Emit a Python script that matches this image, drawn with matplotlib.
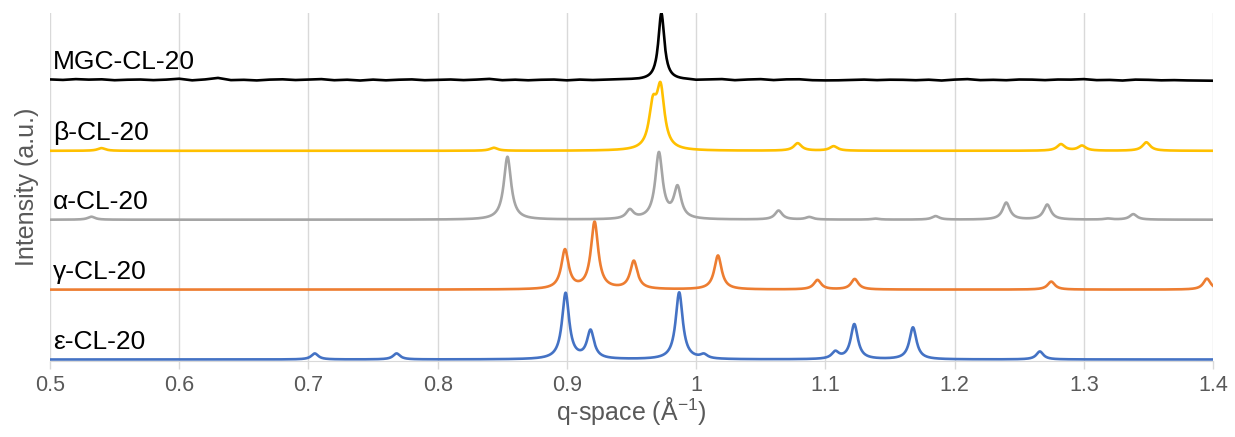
import matplotlib
matplotlib.use("Agg")
import matplotlib.pyplot as plt
import numpy as np

plt.rcParams['font.family'] = ['Liberation Sans', 'DejaVu Sans']
plt.rcParams['mathtext.default'] = 'regular'

# peak lists: position (1/A) and height (a.u.)
eps_pos = [0.7049, 0.7682, 0.8990, 0.9183, 0.9869, 1.0060, 1.1077, 1.1224, 1.1678, 1.2660]
eps_h = [6, 6, 66, 28, 67, 4, 7, 35, 32, 8]

gam_pos = [0.8985, 0.9214, 0.9518, 1.0169, 1.0939, 1.1227, 1.2748, 1.3953]
gam_h = [39, 67, 28, 34, 9.5, 10.5, 8, 11]

alp_pos = [0.5320, 0.8540, 0.9487, 0.9712, 0.9856, 1.0638, 1.0876, 1.1387, 1.1853,
           1.2400, 1.2717, 1.3186, 1.3383]
alp_h = [3, 63, 9, 66, 31, 9, 2.5, 1, 3.5, 17, 15, 1, 5.5]

bet_pos = [0.5398, 0.8434, 0.9665, 0.9725, 1.0786, 1.1064, 1.2823, 1.2986, 1.3484]
bet_h = [2.7, 3, 40, 58, 7.5, 4.5, 6.5, 5, 8.5]

mgc_pos = [0.9731]
mgc_h = [67]

# small wiggles of the MGC trace, read every 0.01 from 0.50 to 1.40
mgc_noise = [0.5, 0.0, 0.8, 0.3, 0.6, -0.3, 0.2, 0.4, -0.2, 0.3,
             1.2, -0.4, 0.5, 2.0, -0.2, 0.1, -0.5, 0.3, 0.6, -0.1,
             0.4, 0.8, -0.3, 0.2, -0.6, 0.3, -0.4, 0.2, 0.5, -0.3,
             0.1, 0.4, -0.2, 0.3, 1.0, -0.3, 0.2, -0.4, 0.1, 0.3,
             -0.5, 0.2, -0.3, 0.0, 0.3, 0.2, 0.0, 0.0, 0.0, 0.3,
             -0.5, 0.2, 0.6, -0.4, 0.3, 0.7, -0.2, 0.5, 0.6, -0.3,
             -0.5, -0.4, 0.0, 0.3, -0.2, 0.2, 0.1, -0.3, 0.2, -0.6,
             0.3, 0.8, -0.2, 0.1, -0.3, 0.4, 0.3, -0.2, 0.4, 0.3,
             0.8, -0.2, 0.0, -0.6, 0.3, 0.1, -0.4, -0.2, -0.5, -0.6,
             -0.8]

labels = ['ε-CL-20', 'γ-CL-20', 'α-CL-20', 'β-CL-20', 'MGC-CL-20']
offsets = [0, 70, 140, 209, 280]
widths = [0.0033, 0.0034, 0.0034, 0.0036, 0.0028]   # half width of each peak
colors = ['#4472C4', '#ED7D31', '#A5A5A5', '#FFC000', '#000000']


def profile(q, pos, h, g):
    y = np.zeros_like(q)
    for p, a in zip(pos, h):
        y += a / (1 + ((q - p) / g) ** 2)
    return y


fig = plt.figure(figsize=(12.35, 4.37), dpi=100)
ax = fig.add_axes([0.0405, 0.1739, 0.9417, 0.7963])

q = np.linspace(0.5, 1.4, 4000)
peaks = [(eps_pos, eps_h), (gam_pos, gam_h), (alp_pos, alp_h), (bet_pos, bet_h)]
for i, (pos, h) in enumerate(peaks):
    ax.plot(q, offsets[i] + profile(q, pos, h, widths[i]), color=colors[i], lw=1.9,
            solid_joinstyle='round')

# MGC: the read wiggles plus a dense run of points through the peak
nq = np.linspace(0.5, 1.4, len(mgc_noise))
nv = np.array(mgc_noise)
keep = (nq < 0.955) | (nq > 0.99)
pq = np.linspace(0.955, 0.99, 80)
xq = np.concatenate([nq[keep], pq])
xv = np.concatenate([nv[keep], np.zeros_like(pq)])
order = np.argsort(xq)
xq, xv = xq[order], xv[order]
ax.plot(xq, offsets[4] + profile(xq, mgc_pos, mgc_h, widths[4]) + xv,
        color=colors[4], lw=1.9, solid_joinstyle='round')

for i, lab in enumerate(labels):
    ax.text(0.5025, offsets[i] + 11, lab, fontsize=19, color='black',
            ha='left', va='baseline')

ax.set_xlim(0.5, 1.4)
ax.set_ylim(-1.5, 347)
ax.set_xticks([0.5, 0.6, 0.7, 0.8, 0.9, 1.0, 1.1, 1.2, 1.3, 1.4])
ax.set_xticklabels(['0.5', '0.6', '0.7', '0.8', '0.9', '1', '1.1', '1.2', '1.3', '1.4'])
ax.set_yticks([])
ax.grid(axis='x', color='#D9D9D9', lw=1)
ax.set_axisbelow(True)
for s in ['top', 'right', 'left']:
    ax.spines[s].set_visible(False)
ax.spines['bottom'].set_color('#D9D9D9')
ax.tick_params(axis='x', colors='#D9D9D9', length=6, width=1, labelsize=15.5,
               labelcolor='#595959', pad=4)

ax.set_xlabel('q-space (Å$^{-1}$)', fontsize=18, color='#595959', labelpad=-1)
ax.set_ylabel('Intensity (a.u.)', fontsize=18, color='#595959', labelpad=8)

fig.savefig('out.png', dpi=100)
